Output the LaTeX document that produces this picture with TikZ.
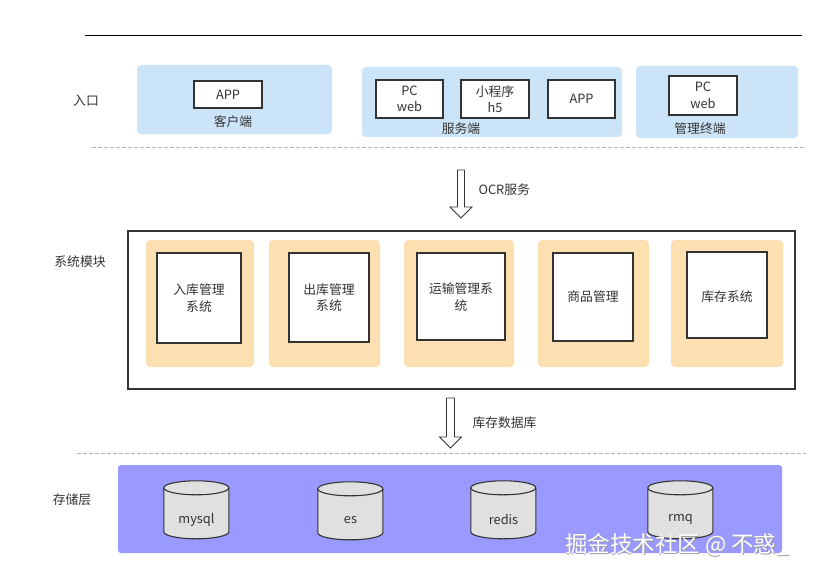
\documentclass[tikz,border=0pt]{standalone}
\usepackage{fontspec}
\setmainfont{Noto Sans CJK SC}
\usetikzlibrary{shapes.geometric}
\definecolor{txt}{HTML}{333333}
\definecolor{blueg}{HTML}{CCE4F8}
\definecolor{orang}{HTML}{FDE0B2}
\definecolor{purp}{HTML}{9999FF}
\definecolor{cyl}{HTML}{E0E0E0}
\definecolor{dash}{HTML}{B4B4B4}
\tikzset{
  every node/.style={font=\fontsize{12.8}{16.5}\selectfont, text=txt, align=center},
  group/.style={fill=blueg, rounded corners=4pt, draw=none},
  wbox/.style={draw=txt, line width=1.2pt, fill=white},
  obox/.style={fill=orang, rounded corners=4pt, draw=none},
  sep/.style={draw=dash, line width=1pt, dash pattern=on 4pt off 2pt},
  dbline/.style={draw=txt, line width=1.1pt, fill=cyl},
  harrow/.style={draw=txt, line width=0.9pt, fill=white},
  wmark/.style={anchor=west, font=\fontsize{22.5}{24}\selectfont},
}
% cylinder centred at #1,#2 : width 65, height 58, ellipse half height 7
\newcommand{\mydb}[3]{%
  \node[minimum width=65pt, minimum height=58pt, inner sep=0] (#3) at (#1,#2) {};
  \path[dbline] (#3.north west) ++(0,7) -- ++(0,44) arc[start angle=180, end angle=0, x radius=32.5, y radius=7] -- ++(0,-44) arc[start angle=360, end angle=180, x radius=32.5, y radius=7] -- cycle;
  \draw[dbline, fill=none] (#3.north west) ++(0,7) arc[start angle=180, end angle=0, x radius=32.5, y radius=7];
}
\begin{document}
\begin{tikzpicture}[x=1pt, y=-1pt]
\useasboundingbox (0,0) rectangle (832,578);
\fill[white] (0,0) rectangle (832,578);
% top line
\coordinate (tl) at (85,35); \coordinate (tr) at (802,35);
\draw[black, line width=0.9pt] (tl) -- (tr);
% row 1
\node (lblIn) at (86,101) {入口};
\path[group] (137,65) rectangle (332,134);
\node[wbox, minimum width=68pt, minimum height=27pt, inner sep=0] (app1) at (228,94.5) {APP};
\node (kh) at (233,122) {客户端};
\path[group] (362,67) rectangle (622,137);
\node[wbox, minimum width=67pt, minimum height=38pt, inner sep=0] (pc1) at (409.5,99) {PC\\web};
\node[wbox, minimum width=68pt, minimum height=38pt, inner sep=0] (mp) at (495,99) {小程序\\h5};
\node[wbox, minimum width=67pt, minimum height=38pt, inner sep=0] (app2) at (581.5,99) {APP};
\node (fw) at (461,129) {服务端};
\path[group] (636,66) rectangle (798,138);
\node[wbox, minimum width=68pt, minimum height=39pt, inner sep=0] (pc2) at (703,95.5) {PC\\web};
\node (gl) at (700,129) {管理终端};
\coordinate (d1l) at (92,147); \coordinate (d1r) at (806,147);
\draw[sep] (d1l) -- (d1r);
% arrow 1
\coordinate (a1) at (461,170);
\draw[harrow] (a1) ++(-3.5,0) -- ++(0,37) -- ++(-7.5,0) -- ++(11,11) -- ++(11,-11) -- ++(-7.5,0) -- ++(0,-37) -- cycle;
\node[anchor=west] (ocr) at (475,190) {OCR服务};
% system module
\node (lblSys) at (80,262) {系统模块};
\node[draw=txt, line width=1.4pt, minimum width=667pt, minimum height=158pt, inner sep=0] (sys) at (461.5,310) {};
\path[obox] (146,240) rectangle (254,367);
\path[obox] (269,240) rectangle (380,367);
\path[obox] (404,240) rectangle (514,367);
\path[obox] (538,240) rectangle (649,367);
\path[obox] (671,240) rectangle (783,367);
\node[wbox, minimum width=84pt, minimum height=90pt, inner sep=0] (m1) at (199,298) {入库管理\\系统};
\node[wbox, minimum width=80pt, minimum height=89pt, inner sep=0] (m2) at (329,297.5) {出库管理\\系统};
\node[wbox, minimum width=88pt, minimum height=87pt, inner sep=0] (m3) at (461,296.5) {};
\node (m3t) at (461,297) {运输管理系\\统};
\node[wbox, minimum width=80pt, minimum height=88pt, inner sep=0] (m4) at (593,297) {商品管理};
\node[wbox, minimum width=80pt, minimum height=86pt, inner sep=0] (m5) at (727,295) {};
\node (m5t) at (727,297) {库存系统};
% arrow 2
\coordinate (a2) at (450.5,398);
\draw[harrow] (a2) ++(-4,0) -- ++(0,39) -- ++(-7,0) -- ++(11,11) -- ++(11,-11) -- ++(-7,0) -- ++(0,-39) -- cycle;
\node[anchor=west] (kc) at (469,423) {库存数据库};
\coordinate (d2l) at (77,453); \coordinate (d2r) at (806,453);
\draw[sep] (d2l) -- (d2r);
% storage
\node (lblSt) at (72,500) {存储层};
\path[fill=purp, rounded corners=3pt] (118,465) rectangle (782,553);
\mydb{196.5}{510}{c1}
\node (c1t) at (196.5,520) {mysql};
\mydb{350.5}{511}{c2}
\node (c2t) at (350.5,520) {es};
\mydb{503.5}{510}{c3}
\node (c3t) at (503.5,519) {redis};
\mydb{680.5}{510}{c4}
\node (c4t) at (680.5,519) {rmq};
% watermark
\node[wmark, text=gray!75] (wm0) at (562.3,545.7) {掘金技术社区 @ 不惑\_};
\node[wmark, text=white] (wm) at (561.5,544.9) {掘金技术社区 @ 不惑\_};
\end{tikzpicture}
\end{document}
